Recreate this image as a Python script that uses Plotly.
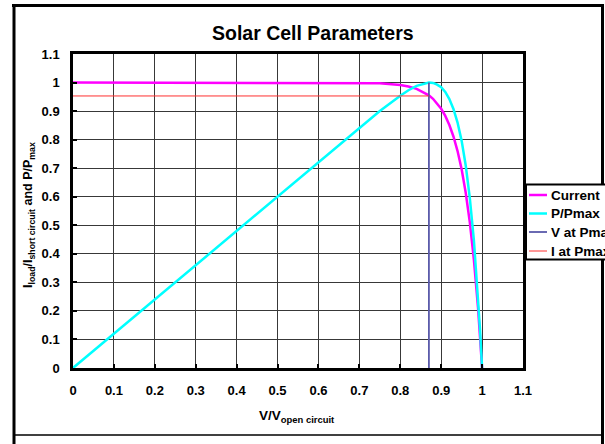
import plotly.graph_objects as go

# ---- data ----
v_ratio = [0, 0.1, 0.2, 0.3, 0.4, 0.5, 0.6, 0.65, 0.7, 0.75, 0.8, 0.82, 0.84, 0.86,
           0.87, 0.88, 0.89, 0.9, 0.91, 0.92, 0.93, 0.94, 0.95, 0.96, 0.97, 0.98,
           0.99, 0.995, 1.0]
current = [1, 1, 1, 1, 1, 1, 1.0, 0.9998, 0.9992, 0.9974, 0.991, 0.986, 0.978, 0.964,
           0.955, 0.943, 0.927, 0.908, 0.883, 0.851, 0.811, 0.760, 0.696, 0.614, 0.510,
           0.379, 0.212, 0.112, 0]
p_ratio = [0, 0.1203, 0.2407, 0.361, 0.4813, 0.6017, 0.722, 0.782, 0.8417, 0.9002,
           0.954, 0.973, 0.9886, 0.9977, 1.0, 0.9986, 0.9928, 0.9834, 0.967, 0.942,
           0.9076, 0.8597, 0.7957, 0.7093, 0.5953, 0.447, 0.2526, 0.134, 0]
v_at_pmax_x = [0.87, 0.87]
v_at_pmax_y = [0, 1.0]
i_at_pmax_x = [0, 0.87]
i_at_pmax_y = [0.953, 0.953]

tick_vals = [0, 0.1, 0.2, 0.3, 0.4, 0.5, 0.6, 0.7, 0.8, 0.9, 1.0, 1.1]
tick_text = ["0", "0.1", "0.2", "0.3", "0.4", "0.5", "0.6", "0.7", "0.8", "0.9", "1", "1.1"]

series_names = ["Current", "P/Pmax", "V at Pmax", "I at Pmax"]
series_colors = ["#ff00ff", "#00ffff", "#5a5aaa", "#ff3030"]
series_widths = [2.5, 2.5, 1.8, 1.0]

W, H = 605, 444
ML, MR, MT, MB = 73, 82, 54, 76
PW, PH = W - ML - MR, H - MT - MB


def px(x):
    return (x - ML) / PW


def py(y):
    return (H - MB - y) / PH


FONT = "Liberation Sans, Arial, sans-serif"

fig = go.Figure()
xs = [v_ratio, v_ratio, v_at_pmax_x, i_at_pmax_x]
ys = [current, p_ratio, v_at_pmax_y, i_at_pmax_y]
for name, c, w, x, y in zip(series_names, series_colors, series_widths, xs, ys):
    fig.add_trace(go.Scatter(x=x, y=y, mode="lines", name=name,
                             line=dict(color=c, width=w), showlegend=False,
                             cliponaxis=True))

axis_common = dict(
    range=[0, 1.1], tickvals=tick_vals, ticktext=tick_text,
    showgrid=True, gridcolor="#383838", gridwidth=1,
    showline=True, linecolor="black", linewidth=2.5, mirror=True,
    ticks="inside", ticklen=4, tickwidth=2, tickcolor="black",
    tickfont=dict(family=FONT, size=13, color="black", weight="bold"),
    zeroline=False, fixedrange=True,
)
fig.update_xaxes(**axis_common, ticklabelstandoff=9)
fig.update_yaxes(**axis_common, ticklabelstandoff=8)

shapes = []
# outer chart frame
shapes.append(dict(type="line", xref="paper", yref="paper", x0=px(12), x1=px(603.5),
                   y0=py(5.5), y1=py(5.5), line=dict(color="black", width=3)))
shapes.append(dict(type="line", xref="paper", yref="paper", x0=px(14), x1=px(14),
                   y0=py(4), y1=py(450), line=dict(color="black", width=3)))
shapes.append(dict(type="line", xref="paper", yref="paper", x0=px(602.5), x1=px(602.5),
                   y0=py(4), y1=py(450), line=dict(color="black", width=3)))
shapes.append(dict(type="line", xref="paper", yref="paper", x0=px(14), x1=px(603),
                   y0=py(435), y1=py(435), line=dict(color="black", width=1.5)))
# legend box
shapes.append(dict(type="rect", xref="paper", yref="paper", x0=px(526), x1=px(640),
                   y0=py(184.5), y1=py(259.5), line=dict(color="black", width=2),
                   fillcolor="white"))
rows_y = [195, 213.5, 232, 251]
annotations = []
for name, c, w, ry in zip(series_names, series_colors, series_widths, rows_y):
    shapes.append(dict(type="line", xref="paper", yref="paper", x0=px(529), x1=px(547),
                       y0=py(ry), y1=py(ry), line=dict(color=c, width=w if w > 1 else 1)))
    annotations.append(dict(xref="paper", yref="paper", x=px(549), y=py(ry),
                            xanchor="left", yanchor="middle", showarrow=False,
                            text=name,
                            font=dict(family=FONT, size=13.5, color="black", weight="bold")))

# axis titles
annotations.append(dict(xref="paper", yref="paper", x=px(297), y=py(416),
                        xanchor="center", yanchor="middle", showarrow=False,
                        text="V/V<sub>open circuit</sub>",
                        font=dict(family=FONT, size=13.5, color="black", weight="bold")))
annotations.append(dict(xref="paper", yref="paper", x=px(29), y=py(215),
                        xanchor="center", yanchor="middle", showarrow=False, textangle=-90,
                        text="I<sub>load</sub>/I<sub>short circuit</sub> and P/P<sub>max</sub>",
                        font=dict(family=FONT, size=12.5, color="black", weight="bold")))
# title
annotations.append(dict(xref="paper", yref="paper", x=px(313), y=py(33),
                        xanchor="center", yanchor="middle", showarrow=False,
                        text="Solar Cell Parameters",
                        font=dict(family=FONT, size=19.5, color="black", weight="bold")))

fig.update_layout(
    width=W, height=H,
    margin=dict(l=ML, r=MR, t=MT, b=MB, pad=0, autoexpand=False),
    paper_bgcolor="white", plot_bgcolor="white",
    shapes=shapes, annotations=annotations,
    showlegend=False,
)

fig.write_html("out.html", config={"displayModeBar": False},
               post_script="document.body.style.margin='0';document.body.style.overflow='hidden';")
